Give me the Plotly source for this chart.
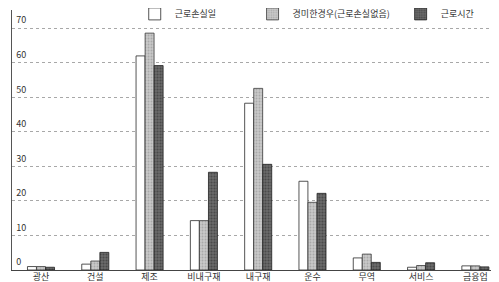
import plotly.graph_objects as go

categories = ["광산", "건설", "제조", "비내구재", "내구재", "운수", "무역", "서비스", "금융업"]
series_names = ["근로손실일", "경미한경우(근로손실없음)", "근로시간"]
lost_days = [1.0, 1.7, 62.0, 14.3, 48.3, 25.7, 3.5, 0.8, 1.2]
minor_cases = [1.0, 2.6, 68.6, 14.3, 52.6, 19.6, 4.6, 1.3, 1.2]
work_hours = [0.8, 5.1, 59.2, 28.3, 30.6, 22.2, 2.2, 2.1, 0.9]
y_ticks = [0, 10, 20, 30, 40, 50, 60, 70]

font_family = "Noto Sans CJK KR, Noto Sans, sans-serif"

fig = go.Figure()
styles = [
    dict(color="#ffffff", line=dict(color="#2a2a2a", width=0.8)),
    dict(color="#b9b9b9", line=dict(color="#3a3a3a", width=0.8),
         pattern=dict(shape=".", fgcolor="#8a8a8a", bgcolor="#c8c8c8", size=3, solidity=0.3)),
    dict(color="#4d4d4d", line=dict(color="#222222", width=0.8),
         pattern=dict(shape=".", fgcolor="#2a2a2a", bgcolor="#6a6a6a", size=3, solidity=0.4)),
]
legends = ["legend", "legend2", "legend3"]
for name, vals, st, lg in zip(series_names, [lost_days, minor_cases, work_hours], styles, legends):
    fig.add_trace(go.Bar(x=list(range(len(categories))), y=vals, name=name,
                         marker=st, legend=lg, width=0.165, showlegend=True))

leg_common = dict(orientation="h", yanchor="middle", y=0.985, xanchor="left", yref="paper",
                  bgcolor="rgba(0,0,0,0)", font=dict(family=font_family, size=9, color="#333"),
                  itemwidth=30, borderwidth=0, visible=True)
fig.update_layout(
    width=491, height=274,
    margin=dict(l=4, r=0, t=2, b=12, autoexpand=False),
    paper_bgcolor="white", plot_bgcolor="white",
    barmode="group", bargap=0.5, bargroupgap=0,
    showlegend=True,
    legend=dict(leg_common, x=0.252),
    legend2=dict(leg_common, x=0.494),
    legend3=dict(leg_common, x=0.798),
    font=dict(family=font_family, size=9, color="#333"),
    xaxis=dict(range=[-0.534, 8.435], tickmode="array", tickvals=list(range(len(categories))),
               ticktext=categories, showgrid=False, showline=True, linecolor="#444",
               linewidth=1.2, ticks="", automargin=False, ticklabelstandoff=-2,
               tickfont=dict(size=9, color="#333")),
    yaxis=dict(range=[0, 75.3], tickmode="array", tickvals=y_ticks, showgrid=True,
               gridcolor="#a8a8a8", griddash="dot", gridwidth=1, showline=True,
               linecolor="#555", linewidth=1, zeroline=False, automargin=False,
               ticklabelposition="inside", ticklabelshift=-8, ticklabelstandoff=3,
               tickfont=dict(size=9, color="#333")),
)
fig.write_html("out.html")
